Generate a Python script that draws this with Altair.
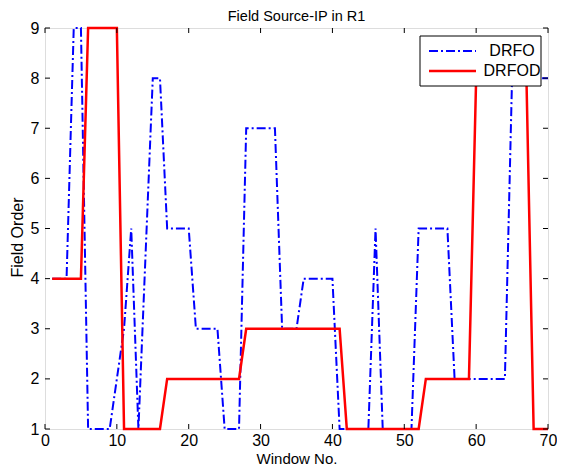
import altair as alt
import pandas as pd

# ---- data ----
drfo_x = [1, 3, 4, 5, 6, 9, 10, 11, 12, 13, 15, 16, 17, 20, 21, 24, 25, 27, 28, 32,
          33, 35, 36, 40, 41, 45, 46, 47, 51, 52, 56, 57, 64, 65, 70]
drfo_y = [4, 4, 9, 9, 1, 1, 2, 3, 5, 1, 8, 8, 5, 5, 3, 3, 1, 1, 7, 7,
          3, 3, 4, 4, 1, 1, 5, 1, 1, 5, 5, 2, 2, 8, 8]

drfod_x = [1, 5, 6, 10, 11, 16, 17, 27, 28, 41, 42, 52, 53, 59, 60, 67, 68, 70]
drfod_y = [4, 4, 9, 9, 1, 1, 2, 2, 3, 3, 1, 1, 2, 2, 8, 8, 1, 1]

series_names = ["DRFO", "DRFOD"]
x_ticks = [0, 10, 20, 30, 40, 50, 60, 70]
y_ticks = [1, 2, 3, 4, 5, 6, 7, 8, 9]

title_text = "Field Source-IP in R1"
x_title = "Window No."
y_title = "Field Order"

FONT = "Liberation Sans"
W, H = 503, 401

df_blue = pd.DataFrame({"x": drfo_x, "y": drfo_y, "o": range(len(drfo_x))})
df_red = pd.DataFrame({"x": drfod_x, "y": drfod_y, "o": range(len(drfod_x))})
df_xt = pd.DataFrame({"x": x_ticks})
df_yt = pd.DataFrame({"y": y_ticks})

x_axis = alt.Axis(values=x_ticks, format="d", title=x_title, grid=False, domain=False,
                  ticks=False, labelPadding=3, labelFontSize=16, labelFont=FONT,
                  labelColor="black", titleFont=FONT, titleFontSize=15,
                  titleFontWeight="normal", titleColor="black", titleBaseline="alphabetic",
                  titleY=34, labelFlush=False)
y_axis = alt.Axis(values=y_ticks, format="d", title=y_title, grid=False, domain=False,
                  ticks=False, labelPadding=6, labelFontSize=16, labelFont=FONT,
                  labelColor="black", titleFont=FONT, titleFontSize=16,
                  titleFontWeight="normal", titleColor="black", titleAngle=270,
                  titleBaseline="middle", titleAlign="center", titleX=-28, titleY=209)

xs = alt.Scale(domain=[0, 70], nice=False, zero=False)
ys = alt.Scale(domain=[1, 9], nice=False, zero=False)
X = alt.X("x:Q", scale=xs, axis=x_axis)
Y = alt.Y("y:Q", scale=ys, axis=y_axis)

blue = alt.Chart(df_blue).mark_line(color="#0000FF", strokeWidth=2,
                                    strokeDash=[9, 3, 2, 3]).encode(x=X, y=Y, order="o:Q")
red = alt.Chart(df_red).mark_line(color="#FF0000", strokeWidth=2.5).encode(x=X, y=Y, order="o:Q")

tick_len = 5
tb = alt.Chart(df_xt).mark_rule(color="black", strokeWidth=1).encode(
    x=X, y=alt.value(H), y2=alt.value(H - tick_len))
tt = alt.Chart(df_xt).mark_rule(color="black", strokeWidth=1).encode(
    x=X, y=alt.value(0), y2=alt.value(tick_len))
tl = alt.Chart(df_yt).mark_rule(color="black", strokeWidth=1).encode(
    y=Y, x=alt.value(0), x2=alt.value(tick_len))
tr = alt.Chart(df_yt).mark_rule(color="black", strokeWidth=1).encode(
    y=Y, x=alt.value(W), x2=alt.value(W - tick_len))

# ---- chart title as a text mark above the plot ----
ttl = alt.Chart(alt.Data(values=[{"t": title_text}])).mark_text(
    font=FONT, fontSize=14.5, align="center", baseline="alphabetic", color="black").encode(
    x=alt.value(W / 2), y=alt.value(-7), text="t:N")

# ---- manual legend box ----
one = alt.Data(values=[{"a": 1}])
leg_box = alt.Chart(one).mark_rect(fill="white", stroke="black", strokeWidth=1).encode(
    x=alt.value(W - 128), x2=alt.value(W - 7), y=alt.value(8), y2=alt.value(58))
leg_b = alt.Chart(one).mark_rule(color="#0000FF", strokeWidth=2, strokeDash=[9, 3, 2, 3]).encode(
    x=alt.value(W - 119), x2=alt.value(W - 72), y=alt.value(23))
leg_r = alt.Chart(one).mark_rule(color="#FF0000", strokeWidth=2.5).encode(
    x=alt.value(W - 119), x2=alt.value(W - 72), y=alt.value(43))
leg_tb = alt.Chart(alt.Data(values=[{"t": series_names[0]}])).mark_text(
    font=FONT, fontSize=16, align="center", baseline="middle", color="black").encode(
    x=alt.value(W - 36), y=alt.value(23), text="t:N")
leg_tr = alt.Chart(alt.Data(values=[{"t": series_names[1]}])).mark_text(
    font=FONT, fontSize=16, align="center", baseline="middle", color="black").encode(
    x=alt.value(W - 36), y=alt.value(43), text="t:N")

chart = alt.layer(blue, red, tb, tt, tl, tr, ttl, leg_box, leg_b, leg_r, leg_tb, leg_tr).properties(
    width=W, height=H,
    autosize=alt.AutoSizeParams(type="none"),
    padding={"left": 37, "top": 20, "right": 9, "bottom": 37},
).configure_view(stroke="black", strokeWidth=1).configure(background="white")

chart.save("out.html", embed_options={"renderer": "svg", "actions": False})
